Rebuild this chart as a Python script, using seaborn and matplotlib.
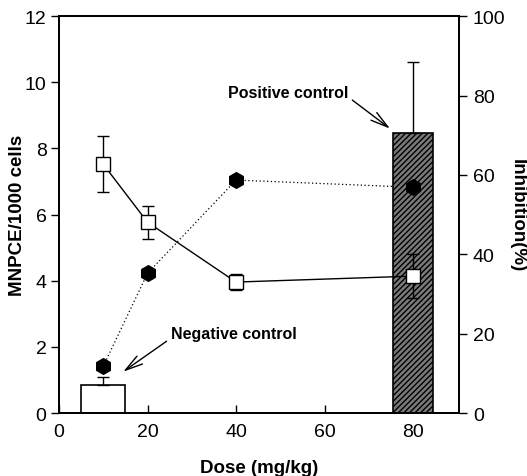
import matplotlib
matplotlib.use("Agg")
import matplotlib.pyplot as plt
import seaborn as sns
import numpy as np
import pandas as pd

# Micronucleated cells (left axis) and inhibition (right axis) against dose
dose = [10, 20, 40, 80]
mnpce = [7.52, 5.77, 3.96, 4.14]
mnpce_err = [0.85, 0.50, 0.24, 0.67]
inhibition = [11.8, 35.2, 58.7, 56.9]

# Control groups shown as bars
ctrl_x = [10, 80]
ctrl_val = [0.85, 8.46]
ctrl_err = [0.24, 2.14]
ctrl_width = [10, 9]
ctrl_names = ["Negative control", "Positive control"]

x_ticks = [0, 20, 40, 60, 80]
left_ticks = [0, 2, 4, 6, 8, 10, 12]
right_ticks = [0, 20, 40, 60, 80, 100]

sns.set_theme(style="ticks")
plt.rcParams["font.family"] = ["Liberation Sans", "DejaVu Sans"]
plt.rcParams.update({
    "hatch.linewidth": 1.0,
    "text.color": "black",
    "axes.labelcolor": "black",
    "xtick.color": "black",
    "ytick.color": "black",
    "axes.edgecolor": "black",
})

df = pd.DataFrame({"dose": dose, "mnpce": mnpce, "inhibition": inhibition})

fig = plt.figure(figsize=(5.27, 4.77), dpi=100)
ax = fig.add_axes([0.112, 0.132, 0.759, 0.832])
ax2 = ax.twinx()   # inhibition dotted line (drawn underneath)
ax3 = ax.twinx()   # inhibition markers (drawn on top)

ax2.set_zorder(1)
ax.set_zorder(2)
ax3.set_zorder(3)
ax.patch.set_visible(False)
ax3.patch.set_visible(False)

# Inhibition dotted line
sns.lineplot(data=df, x="dose", y="inhibition", ax=ax2, color="black",
             linestyle=(0, (1, 2)), linewidth=0.9)

# Control bars
ax.bar(ctrl_x[0], ctrl_val[0], width=ctrl_width[0], facecolor="white",
       edgecolor="black", linewidth=1.2, zorder=2)
ax.bar(ctrl_x[1], ctrl_val[1], width=ctrl_width[1], facecolor="#7a7a7a",
       edgecolor="black", linewidth=1.2, hatch="//////", zorder=2)
ax.errorbar(ctrl_x, ctrl_val, yerr=[[0, 0], ctrl_err], fmt="none",
            ecolor="black", elinewidth=1.0, capsize=4, capthick=1.0, zorder=3)

# MNPCE line with error bars and open squares
ax.errorbar(dose, mnpce, yerr=mnpce_err, fmt="none", ecolor="black",
            elinewidth=1.0, capsize=4, capthick=1.0, zorder=4)
sns.lineplot(data=df, x="dose", y="mnpce", ax=ax, color="black",
             linewidth=1.0, marker="s", markersize=9.5, markerfacecolor="white",
             markeredgecolor="black", markeredgewidth=1.0, zorder=5)

# Inhibition hexagon markers
sns.scatterplot(data=df, x="dose", y="inhibition", ax=ax3, marker="h",
                s=130, color="black", edgecolor="black", zorder=6)

ax.set_xlim(0, 90.4)
ax.set_ylim(0, 12)
for a in (ax2, ax3):
    a.set_ylim(0, 100)

ax.set_xticks(x_ticks)
ax.set_yticks(left_ticks)
ax2.set_yticks(right_ticks)
ax3.set_yticks([])
ax3.set_ylabel("")
ax2.set_ylabel("")

ax.tick_params(axis="x", direction="in", length=6, width=1, labelsize=14, pad=7)
ax.tick_params(axis="y", direction="out", length=6, width=1, labelsize=14, pad=3)
ax2.tick_params(axis="y", direction="out", length=6, width=1, labelsize=14, pad=4)

for a in (ax, ax2, ax3):
    for s in a.spines.values():
        s.set_linewidth(1.2)
        s.set_color("black")

ax.set_xlabel("Dose (mg/kg)", fontsize=13.5, fontweight="bold", va="center")
ax.xaxis.set_label_coords(0.5, -0.136)
ax.set_ylabel("MNPCE/1000 cells", fontsize=13.5, fontweight="bold", va="center")
ax.yaxis.set_label_coords(-0.105, 0.5)
ax3.set_ylabel("Inhibition(%)", fontsize=13.5, fontweight="bold",
               rotation=-90, va="center")
ax3.yaxis.set_label_coords(1.145, 0.5)

# Annotations
arrow_kw = dict(arrowstyle="->,head_length=1.1,head_width=0.3",
                color="black", linewidth=1.0, shrinkA=1, shrinkB=0)
ax.annotate(ctrl_names[1], xy=(74.8, 8.6), xytext=(65.3, 9.7),
            fontsize=11.5, fontweight="bold", ha="right", va="center",
            arrowprops=dict(arrow_kw, relpos=(1.0, 0.2)))
ax.annotate(ctrl_names[0], xy=(14.5, 1.25), xytext=(25.3, 2.4),
            fontsize=11.5, fontweight="bold", ha="left", va="center",
            arrowprops=dict(arrow_kw, relpos=(0.0, 0.2)))

fig.savefig("out.png", dpi=100)
